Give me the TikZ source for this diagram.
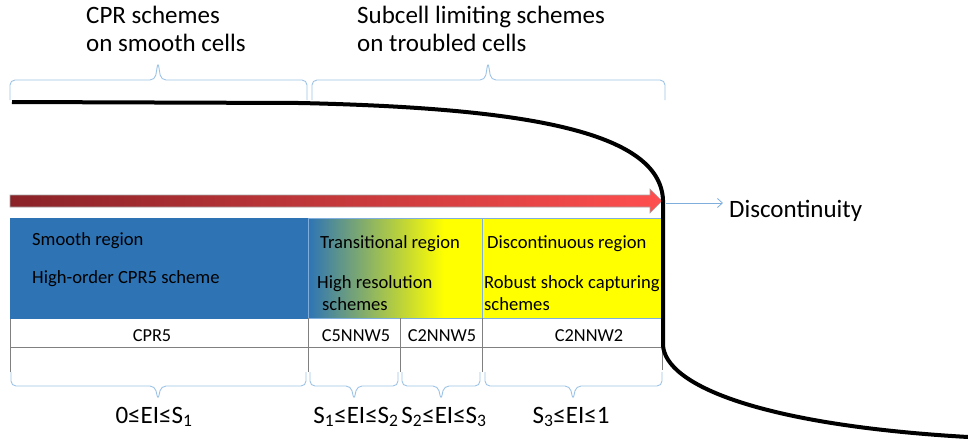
\documentclass[tikz,border=0pt]{standalone}
\usepackage{fontspec}
\setmainfont{Carlito}
\usepackage{xcolor}
\usepackage{tikz}
\usetikzlibrary{arrows.meta}

\definecolor{smoothblue}{HTML}{2E74B5}
\definecolor{shockyellow}{HTML}{FFFF00}
\definecolor{bracecol}{HTML}{9DC3E6}
\definecolor{edgeblue}{HTML}{7FAEDC}
\definecolor{arrowdark}{HTML}{8A2328}
\definecolor{arrowlight}{HTML}{FF4E4E}
\pgfdeclarehorizontalshading{transshade}{100bp}{color(0bp)=(smoothblue); color(25bp)=(smoothblue); color(64bp)=(shockyellow); color(100bp)=(shockyellow)}

\begin{document}
\begin{tikzpicture}
  [x=1pt,y=-1pt,every node/.style={inner sep=0pt},
   headtext/.style={anchor=base west,font=\fontsize{25}{30}\selectfont},
   boxtext/.style={anchor=base west,font=\fontsize{18.6}{22}\selectfont},
   celltext/.style={anchor=base,font=\fontsize{18.3}{21}\selectfont},
   rangetext/.style={anchor=base,font=\fontsize{25}{30}\selectfont},
   bracestyle/.style={draw=bracecol,line width=0.9pt,rounded corners=5pt},
   gridline/.style={draw=gray,line width=0.8pt},
   shockline/.style={draw=black,line width=4pt}] % pixel units, y going down
    \useasboundingbox (0,0) rectangle (968,440);

    % upper labels and braces
    \node[headtext] (cprhead)  at (86,23)  {CPR schemes};
    \node[headtext] (cprhead2) at (86,51)  {on smooth cells};
    \node[headtext] (subhead)  at (357,23) {Subcell limiting schemes};
    \node[headtext] (subhead2) at (357,51) {on troubled cells};

    \draw[bracestyle] (10,100) -- (10,80) -- (155,80) -- (158,62) -- (161,80) -- (307,80) -- (307,100);
    \draw[bracestyle] (312,100) -- (312,80) -- (485,80) -- (488,62) -- (491,80) -- (665,80) -- (665,100);

    % regions
    \fill[smoothblue] (10,218) rectangle (308,319);
    \shade[shading=transshade] (308,218) rectangle (482,318);
    \fill[shockyellow] (482,218) rectangle (663,318);
    \draw[edgeblue,line width=0.8pt] (308,218) rectangle (482,318);
    \draw[edgeblue,line width=0.8pt] (482,218) rectangle (663,318);

    \node[boxtext] (smooth)   at (32,245)  {Smooth region};
    \node[boxtext] (cprsch)   at (32,283)  {High-order CPR5 scheme};
    \node[boxtext] (trans)    at (320,248) {Transitional region};
    \node[boxtext] (hires)    at (317,288) {High resolution};
    \node[boxtext] (hires2)   at (322,310) {schemes};
    \node[boxtext] (discreg)  at (487,248) {Discontinuous region};
    \node[boxtext] (robust)   at (484,288) {Robust shock capturing};
    \node[boxtext] (robust2)  at (484,310) {schemes};

    % scheme row
    \draw[gridline] (10,347) -- (663,347);
    \draw[gridline] (10,319) -- (10,372);
    \draw[gridline] (308,318) -- (308,372);
    \draw[gridline] (400,318) -- (400,372);
    \draw[gridline] (482,318) -- (482,372);
    \draw[gridline] (662,347) -- (662,370);

    \node[celltext] (cpr5)   at (152,341) {CPR5};
    \node[celltext] (c5nnw5) at (356,341) {C5NNW5};
    \node[celltext] (c2nnw5) at (442,341) {C2NNW5};
    \node[celltext] (c2nnw2) at (589,341) {C2NNW2};

    % lower braces and ranges
    \draw[bracestyle] (11,372) -- (11,386) -- (155,386) -- (158,400) -- (161,386) -- (306,386) -- (306,372);
    \draw[bracestyle] (310,372) -- (310,386) -- (351,386) -- (354,400) -- (357,386) -- (398,386) -- (398,372);
    \draw[bracestyle] (402,372) -- (402,386) -- (438,386) -- (441,400) -- (444,386) -- (480,386) -- (480,372);
    \draw[bracestyle] (485,372) -- (485,386) -- (570,386) -- (573,400) -- (576,386) -- (662,386) -- (662,372);

    \node[rangetext] (range1) at (154,423) {0≤EI≤S\textsubscript{1}};
    \node[rangetext] (range2) at (356,423) {S\textsubscript{1}≤EI≤S\textsubscript{2}};
    \node[rangetext] (range3) at (444,423) {S\textsubscript{2}≤EI≤S\textsubscript{3}};
    \node[rangetext] (range4) at (571,423) {S\textsubscript{3}≤EI≤1};

    % indicator arrow
    \shade[left color=arrowdark,right color=arrowlight,draw=gray!70,line width=0.6pt]
      (10,195) -- (650,195) -- (650,189) -- (662,201) -- (650,213) -- (650,207) -- (10,207) -- cycle;

    % shock profile
    \draw[shockline] (12,102) -- (300,103) .. controls (520,108) and (660,130) .. (663,200)
      -- (663,345) .. controls (665,385) and (760,425) .. (968,437);

    \node[headtext] (disc) at (729,217) {Discontinuity};
    \coordinate (dstart) at (666,203);
    \draw[edgeblue,line width=0.8pt,-{Straight Barb[length=5,width=9]}] (dstart) -- ([xshift=-6pt]dstart -| disc.west);

\end{tikzpicture}
\end{document}
